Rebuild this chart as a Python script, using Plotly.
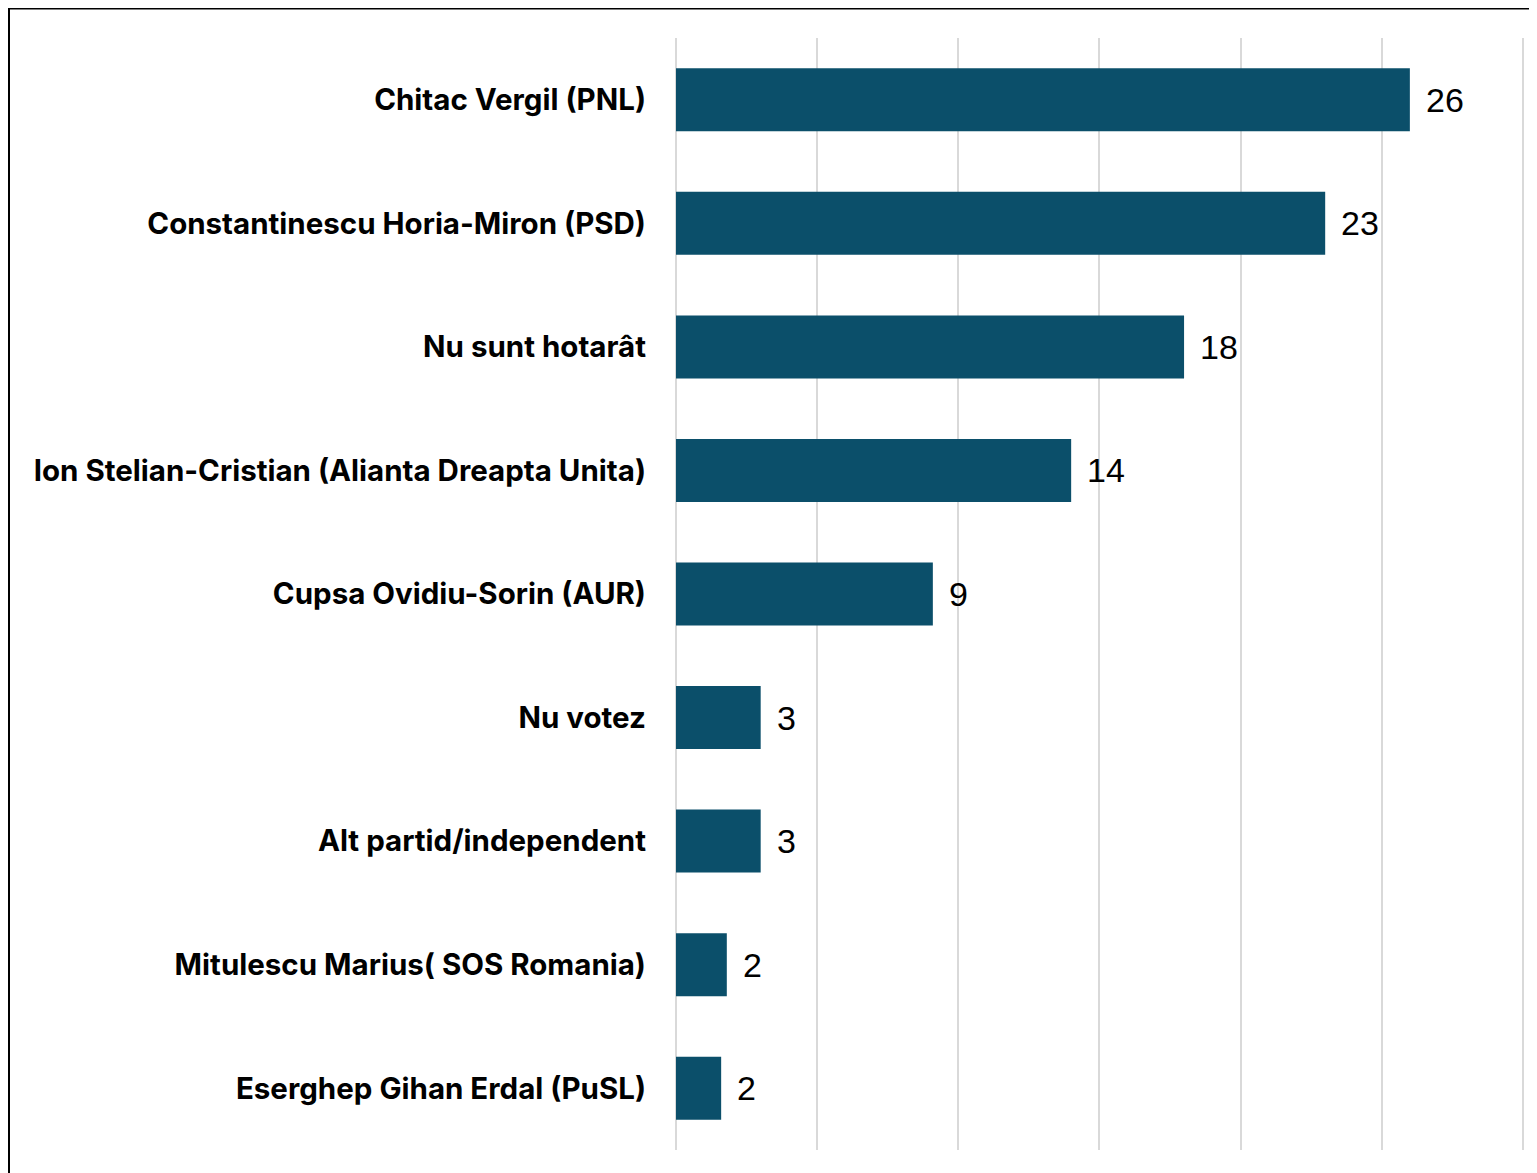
import plotly.graph_objects as go

categories = [
    "Chitac Vergil (PNL)",
    "Constantinescu Horia-Miron (PSD)",
    "Nu sunt hotarât",
    "Ion Stelian-Cristian (Alianta Dreapta Unita)",
    "Cupsa Ovidiu-Sorin (AUR)",
    "Nu votez",
    "Alt partid/independent",
    "Mitulescu Marius( SOS Romania)",
    "Eserghep Gihan Erdal (PuSL)",
]
values = [26, 23, 18, 14, 9.1, 3, 3, 1.8, 1.6]
value_labels = ["26", "23", "18", "14", "9", "3", "3", "2", "2"]

# page body has an 8px margin, so the figure is placed at (8, 8)
W, H = 1529, 1165
ML, MR, MT, MB = 668, 10, 30, 23
XMAX = 30.15
pw, ph = W - ML - MR, H - MT - MB

fig = go.Figure()
fig.add_trace(go.Bar(
    x=values, y=categories, orientation="h",
    marker=dict(color="#0B4F6A", line=dict(width=0)),
    hoverinfo="skip",
))

for c, v, t in zip(categories, values, value_labels):
    fig.add_annotation(x=v, y=c, text=t, showarrow=False, xanchor="left",
                       xshift=14, yshift=0,
                       font=dict(family="Liberation Sans, Arial", size=34, color="#000000"))

# outer border
fig.add_shape(type="rect", xref="paper", yref="paper",
              x0=(1 - ML) / pw, x1=(W + 20 - ML) / pw,
              y0=-(H + 20 - MT - ph) / ph, y1=1 + (MT - 0.5) / ph,
              line=dict(color="#000000", width=2), fillcolor="rgba(0,0,0,0)", layer="below")

fig.update_layout(
    width=W, height=H,
    margin=dict(l=ML, r=MR, t=MT, b=MB, pad=0),
    paper_bgcolor="white", plot_bgcolor="white",
    bargap=0.49,
    showlegend=False,
    xaxis=dict(range=[0, XMAX], dtick=5, tick0=0, showgrid=True, gridcolor="#D9D9D9", gridwidth=2,
               showticklabels=False, zeroline=True, zerolinecolor="#D9D9D9", zerolinewidth=2,
               showline=False, fixedrange=True),
    yaxis=dict(autorange="reversed", showgrid=False, zeroline=False, showline=False,
               ticks="", ticklabelstandoff=29,
               tickfont=dict(family="Inter", size=29.5, color="#000000", weight="bold")),
)
fig.write_html("out.html")
